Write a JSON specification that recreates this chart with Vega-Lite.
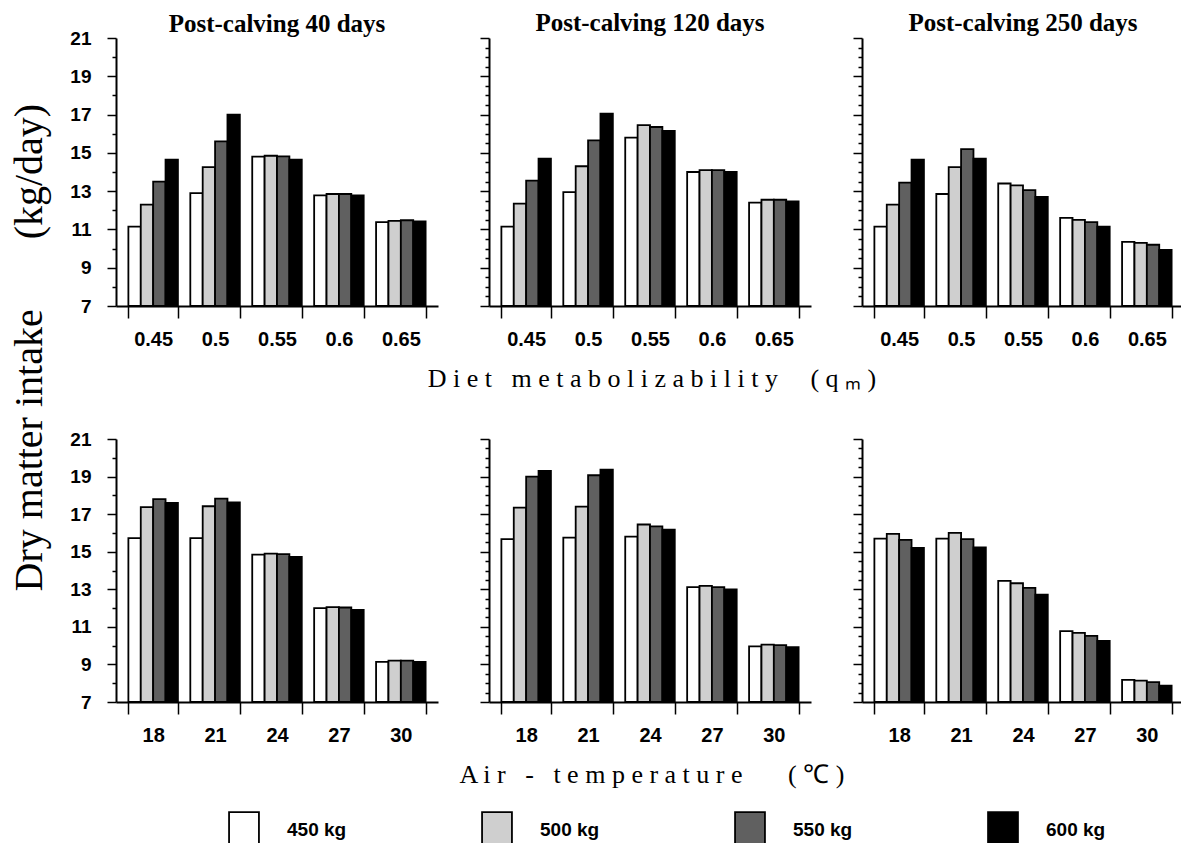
{
  "$schema": "https://vega.github.io/schema/vega-lite/v6.json",
  "background": "white",
  "padding": {"left": 9, "top": 11, "right": 0, "bottom": 0},
  "title": {"text": "Dry matter intake\u00a0\u00a0\u00a0\u00a0\u00a0\u00a0\u00a0(kg/day)", "orient": "left", "anchor": "middle", "font": "Liberation Serif", "fontSize": 40, "fontWeight": "normal", "color": "black", "offset": 20, "dx": 84},
  "data": {"values": [
    {"factor":"qm","days":40,"level":"0.45","weight":"450 kg","intake":11.15},
    {"factor":"qm","days":40,"level":"0.45","weight":"500 kg","intake":12.3},
    {"factor":"qm","days":40,"level":"0.45","weight":"550 kg","intake":13.5},
    {"factor":"qm","days":40,"level":"0.45","weight":"600 kg","intake":14.65},
    {"factor":"qm","days":40,"level":"0.5","weight":"450 kg","intake":12.9},
    {"factor":"qm","days":40,"level":"0.5","weight":"500 kg","intake":14.25},
    {"factor":"qm","days":40,"level":"0.5","weight":"550 kg","intake":15.6},
    {"factor":"qm","days":40,"level":"0.5","weight":"600 kg","intake":17.0},
    {"factor":"qm","days":40,"level":"0.55","weight":"450 kg","intake":14.8},
    {"factor":"qm","days":40,"level":"0.55","weight":"500 kg","intake":14.85},
    {"factor":"qm","days":40,"level":"0.55","weight":"550 kg","intake":14.82},
    {"factor":"qm","days":40,"level":"0.55","weight":"600 kg","intake":14.65},
    {"factor":"qm","days":40,"level":"0.6","weight":"450 kg","intake":12.78},
    {"factor":"qm","days":40,"level":"0.6","weight":"500 kg","intake":12.85},
    {"factor":"qm","days":40,"level":"0.6","weight":"550 kg","intake":12.85},
    {"factor":"qm","days":40,"level":"0.6","weight":"600 kg","intake":12.78},
    {"factor":"qm","days":40,"level":"0.65","weight":"450 kg","intake":11.38},
    {"factor":"qm","days":40,"level":"0.65","weight":"500 kg","intake":11.45},
    {"factor":"qm","days":40,"level":"0.65","weight":"550 kg","intake":11.48},
    {"factor":"qm","days":40,"level":"0.65","weight":"600 kg","intake":11.42},
    {"factor":"qm","days":120,"level":"0.45","weight":"450 kg","intake":11.15},
    {"factor":"qm","days":120,"level":"0.45","weight":"500 kg","intake":12.35},
    {"factor":"qm","days":120,"level":"0.45","weight":"550 kg","intake":13.55},
    {"factor":"qm","days":120,"level":"0.45","weight":"600 kg","intake":14.7},
    {"factor":"qm","days":120,"level":"0.5","weight":"450 kg","intake":12.95},
    {"factor":"qm","days":120,"level":"0.5","weight":"500 kg","intake":14.3},
    {"factor":"qm","days":120,"level":"0.5","weight":"550 kg","intake":15.65},
    {"factor":"qm","days":120,"level":"0.5","weight":"600 kg","intake":17.05},
    {"factor":"qm","days":120,"level":"0.55","weight":"450 kg","intake":15.8},
    {"factor":"qm","days":120,"level":"0.55","weight":"500 kg","intake":16.45},
    {"factor":"qm","days":120,"level":"0.55","weight":"550 kg","intake":16.35},
    {"factor":"qm","days":120,"level":"0.55","weight":"600 kg","intake":16.15},
    {"factor":"qm","days":120,"level":"0.6","weight":"450 kg","intake":14.0},
    {"factor":"qm","days":120,"level":"0.6","weight":"500 kg","intake":14.1},
    {"factor":"qm","days":120,"level":"0.6","weight":"550 kg","intake":14.1},
    {"factor":"qm","days":120,"level":"0.6","weight":"600 kg","intake":14.0},
    {"factor":"qm","days":120,"level":"0.65","weight":"450 kg","intake":12.4},
    {"factor":"qm","days":120,"level":"0.65","weight":"500 kg","intake":12.55},
    {"factor":"qm","days":120,"level":"0.65","weight":"550 kg","intake":12.55},
    {"factor":"qm","days":120,"level":"0.65","weight":"600 kg","intake":12.47},
    {"factor":"qm","days":250,"level":"0.45","weight":"450 kg","intake":11.15},
    {"factor":"qm","days":250,"level":"0.45","weight":"500 kg","intake":12.3},
    {"factor":"qm","days":250,"level":"0.45","weight":"550 kg","intake":13.45},
    {"factor":"qm","days":250,"level":"0.45","weight":"600 kg","intake":14.65},
    {"factor":"qm","days":250,"level":"0.5","weight":"450 kg","intake":12.85},
    {"factor":"qm","days":250,"level":"0.5","weight":"500 kg","intake":14.25},
    {"factor":"qm","days":250,"level":"0.5","weight":"550 kg","intake":15.2},
    {"factor":"qm","days":250,"level":"0.5","weight":"600 kg","intake":14.7},
    {"factor":"qm","days":250,"level":"0.55","weight":"450 kg","intake":13.4},
    {"factor":"qm","days":250,"level":"0.55","weight":"500 kg","intake":13.3},
    {"factor":"qm","days":250,"level":"0.55","weight":"550 kg","intake":13.05},
    {"factor":"qm","days":250,"level":"0.55","weight":"600 kg","intake":12.7},
    {"factor":"qm","days":250,"level":"0.6","weight":"450 kg","intake":11.6},
    {"factor":"qm","days":250,"level":"0.6","weight":"500 kg","intake":11.5},
    {"factor":"qm","days":250,"level":"0.6","weight":"550 kg","intake":11.38},
    {"factor":"qm","days":250,"level":"0.6","weight":"600 kg","intake":11.15},
    {"factor":"qm","days":250,"level":"0.65","weight":"450 kg","intake":10.35},
    {"factor":"qm","days":250,"level":"0.65","weight":"500 kg","intake":10.3},
    {"factor":"qm","days":250,"level":"0.65","weight":"550 kg","intake":10.2},
    {"factor":"qm","days":250,"level":"0.65","weight":"600 kg","intake":9.93},
    {"factor":"temp","days":40,"level":"18","weight":"450 kg","intake":15.72},
    {"factor":"temp","days":40,"level":"18","weight":"500 kg","intake":17.37},
    {"factor":"temp","days":40,"level":"18","weight":"550 kg","intake":17.8},
    {"factor":"temp","days":40,"level":"18","weight":"600 kg","intake":17.6},
    {"factor":"temp","days":40,"level":"21","weight":"450 kg","intake":15.72},
    {"factor":"temp","days":40,"level":"21","weight":"500 kg","intake":17.42},
    {"factor":"temp","days":40,"level":"21","weight":"550 kg","intake":17.83},
    {"factor":"temp","days":40,"level":"21","weight":"600 kg","intake":17.62},
    {"factor":"temp","days":40,"level":"24","weight":"450 kg","intake":14.84},
    {"factor":"temp","days":40,"level":"24","weight":"500 kg","intake":14.9},
    {"factor":"temp","days":40,"level":"24","weight":"550 kg","intake":14.87},
    {"factor":"temp","days":40,"level":"24","weight":"600 kg","intake":14.72},
    {"factor":"temp","days":40,"level":"27","weight":"450 kg","intake":12.0},
    {"factor":"temp","days":40,"level":"27","weight":"500 kg","intake":12.05},
    {"factor":"temp","days":40,"level":"27","weight":"550 kg","intake":12.03},
    {"factor":"temp","days":40,"level":"27","weight":"600 kg","intake":11.9},
    {"factor":"temp","days":40,"level":"30","weight":"450 kg","intake":9.14},
    {"factor":"temp","days":40,"level":"30","weight":"500 kg","intake":9.2},
    {"factor":"temp","days":40,"level":"30","weight":"550 kg","intake":9.2},
    {"factor":"temp","days":40,"level":"30","weight":"600 kg","intake":9.14},
    {"factor":"temp","days":120,"level":"18","weight":"450 kg","intake":15.67},
    {"factor":"temp","days":120,"level":"18","weight":"500 kg","intake":17.35},
    {"factor":"temp","days":120,"level":"18","weight":"550 kg","intake":19.0},
    {"factor":"temp","days":120,"level":"18","weight":"600 kg","intake":19.3},
    {"factor":"temp","days":120,"level":"21","weight":"450 kg","intake":15.75},
    {"factor":"temp","days":120,"level":"21","weight":"500 kg","intake":17.4},
    {"factor":"temp","days":120,"level":"21","weight":"550 kg","intake":19.07},
    {"factor":"temp","days":120,"level":"21","weight":"600 kg","intake":19.37},
    {"factor":"temp","days":120,"level":"24","weight":"450 kg","intake":15.8},
    {"factor":"temp","days":120,"level":"24","weight":"500 kg","intake":16.45},
    {"factor":"temp","days":120,"level":"24","weight":"550 kg","intake":16.35},
    {"factor":"temp","days":120,"level":"24","weight":"600 kg","intake":16.17},
    {"factor":"temp","days":120,"level":"27","weight":"450 kg","intake":13.12},
    {"factor":"temp","days":120,"level":"27","weight":"500 kg","intake":13.18},
    {"factor":"temp","days":120,"level":"27","weight":"550 kg","intake":13.12},
    {"factor":"temp","days":120,"level":"27","weight":"600 kg","intake":13.0},
    {"factor":"temp","days":120,"level":"30","weight":"450 kg","intake":9.96},
    {"factor":"temp","days":120,"level":"30","weight":"500 kg","intake":10.05},
    {"factor":"temp","days":120,"level":"30","weight":"550 kg","intake":10.03},
    {"factor":"temp","days":120,"level":"30","weight":"600 kg","intake":9.92},
    {"factor":"temp","days":250,"level":"18","weight":"450 kg","intake":15.7},
    {"factor":"temp","days":250,"level":"18","weight":"500 kg","intake":15.95},
    {"factor":"temp","days":250,"level":"18","weight":"550 kg","intake":15.63},
    {"factor":"temp","days":250,"level":"18","weight":"600 kg","intake":15.2},
    {"factor":"temp","days":250,"level":"21","weight":"450 kg","intake":15.7},
    {"factor":"temp","days":250,"level":"21","weight":"500 kg","intake":16.0},
    {"factor":"temp","days":250,"level":"21","weight":"550 kg","intake":15.67},
    {"factor":"temp","days":250,"level":"21","weight":"600 kg","intake":15.23},
    {"factor":"temp","days":250,"level":"24","weight":"450 kg","intake":13.45},
    {"factor":"temp","days":250,"level":"24","weight":"500 kg","intake":13.32},
    {"factor":"temp","days":250,"level":"24","weight":"550 kg","intake":13.07},
    {"factor":"temp","days":250,"level":"24","weight":"600 kg","intake":12.72},
    {"factor":"temp","days":250,"level":"27","weight":"450 kg","intake":10.77},
    {"factor":"temp","days":250,"level":"27","weight":"500 kg","intake":10.68},
    {"factor":"temp","days":250,"level":"27","weight":"550 kg","intake":10.52},
    {"factor":"temp","days":250,"level":"27","weight":"600 kg","intake":10.25},
    {"factor":"temp","days":250,"level":"30","weight":"450 kg","intake":8.18},
    {"factor":"temp","days":250,"level":"30","weight":"500 kg","intake":8.14},
    {"factor":"temp","days":250,"level":"30","weight":"550 kg","intake":8.06},
    {"factor":"temp","days":250,"level":"30","weight":"600 kg","intake":7.87}
  ]},
  "spacing": 38,
  "vconcat": [
    {
      "spacing": 51,
      "bounds": "flush",
      "title": {"text": "D i e t \u00a0 m e t a b o l i z a b i l i t y \u00a0 \u00a0 ( q ₘ )", "orient": "bottom", "anchor": "middle", "font": "Liberation Serif", "fontSize": 26, "fontWeight": "normal", "color": "black", "offset": 17, "dx": 25},
      "hconcat": [
        {
          "width": 322, "height": 268,
          "title": {"text": "Post-calving 40 days", "frame": "group", "offset": 1, "dy": 9},
          "transform": [{"filter": "datum.factor == 'qm' && datum.days == 40"}],
          "mark": {"type": "bar"},
          "encoding": {
            "x": {"field": "level", "type": "ordinal", "title": null},
            "xOffset": {"field": "weight", "type": "nominal"},
            "y": {"field": "intake", "type": "quantitative", "title": null, "scale": {"domain": [7, 21], "zero": false, "nice": false},
                  "axis": {"values": [7,7.5,8,8.5,9,9.5,10,10.5,11,11.5,12,12.5,13,13.5,14,14.5,15,15.5,16,16.5,17,17.5,18,18.5,19,19.5,20,20.5,21], "format": "d", "labelExpr": "datum.value % 2 == 1 ? datum.label : ''", "tickSize": {"condition": {"test": "datum.value % 2 == 1", "value": 9}, "value": 4}, "labelPadding": 16}},
            "y2": {"datum": 7},
            "fill": {"field": "weight", "type": "nominal", "title": null,
                     "legend": {"orient": "none", "legendX": 109, "legendY": 773, "direction": "horizontal", "columns": 4, "symbolType": "M-0.83,-1H0.83V1H-0.83Z", "symbolSize": 1296, "symbolStrokeColor": "black", "symbolStrokeWidth": 1.5, "symbolOpacity": 1, "labelFont": "Liberation Sans", "labelFontSize": 19, "labelFontWeight": "bold", "labelColor": "black", "columnPadding": 131, "labelOffset": 24}}
          }
        },
        {
          "width": 322, "height": 268,
          "title": {"text": "Post-calving 120 days", "frame": "group", "offset": 1},
          "transform": [{"filter": "datum.factor == 'qm' && datum.days == 120"}],
          "mark": {"type": "bar"},
          "encoding": {
            "x": {"field": "level", "type": "ordinal", "title": null},
            "xOffset": {"field": "weight", "type": "nominal"},
            "y": {"field": "intake", "type": "quantitative", "title": null, "scale": {"domain": [7, 21], "zero": false, "nice": false},
                  "axis": {"values": [7,7.5,8,8.5,9,9.5,10,10.5,11,11.5,12,12.5,13,13.5,14,14.5,15,15.5,16,16.5,17,17.5,18,18.5,19,19.5,20,20.5,21], "labels": false, "tickSize": {"condition": {"test": "datum.value % 2 == 1", "value": 9}, "value": 4}}},
            "y2": {"datum": 7},
            "fill": {"field": "weight", "type": "nominal", "title": null,
                     "legend": {"orient": "none", "legendX": 109, "legendY": 773, "direction": "horizontal", "columns": 4, "symbolType": "M-0.83,-1H0.83V1H-0.83Z", "symbolSize": 1296, "symbolStrokeColor": "black", "symbolStrokeWidth": 1.5, "symbolOpacity": 1, "labelFont": "Liberation Sans", "labelFontSize": 19, "labelFontWeight": "bold", "labelColor": "black", "columnPadding": 131, "labelOffset": 24}}
          }
        },
        {
          "width": 322, "height": 268,
          "title": {"text": "Post-calving 250 days", "frame": "group", "offset": 1},
          "transform": [{"filter": "datum.factor == 'qm' && datum.days == 250"}],
          "mark": {"type": "bar"},
          "encoding": {
            "x": {"field": "level", "type": "ordinal", "title": null},
            "xOffset": {"field": "weight", "type": "nominal"},
            "y": {"field": "intake", "type": "quantitative", "title": null, "scale": {"domain": [7, 21], "zero": false, "nice": false},
                  "axis": {"values": [7,7.5,8,8.5,9,9.5,10,10.5,11,11.5,12,12.5,13,13.5,14,14.5,15,15.5,16,16.5,17,17.5,18,18.5,19,19.5,20,20.5,21], "labels": false, "tickSize": {"condition": {"test": "datum.value % 2 == 1", "value": 9}, "value": 4}}},
            "y2": {"datum": 7},
            "fill": {"field": "weight", "type": "nominal", "title": null,
                     "legend": {"orient": "none", "legendX": 109, "legendY": 773, "direction": "horizontal", "columns": 4, "symbolType": "M-0.83,-1H0.83V1H-0.83Z", "symbolSize": 1296, "symbolStrokeColor": "black", "symbolStrokeWidth": 1.5, "symbolOpacity": 1, "labelFont": "Liberation Sans", "labelFontSize": 19, "labelFontWeight": "bold", "labelColor": "black", "columnPadding": 131, "labelOffset": 24}}
          }
        }
      ]
    },
    {
      "spacing": 51,
      "bounds": "flush",
      "title": {"text": "A i r \u00a0 - \u00a0 t e m p e r a t u r e \u00a0 \u00a0 \u00a0 ( ℃ )", "orient": "bottom", "anchor": "middle", "font": "Liberation Serif", "fontSize": 26, "fontWeight": "normal", "color": "black", "offset": 17, "dx": 25},
      "hconcat": [
        {
          "width": 322, "height": 263,
          "transform": [{"filter": "datum.factor == 'temp' && datum.days == 40"}],
          "mark": {"type": "bar"},
          "encoding": {
            "x": {"field": "level", "type": "ordinal", "title": null},
            "xOffset": {"field": "weight", "type": "nominal"},
            "y": {"field": "intake", "type": "quantitative", "title": null, "scale": {"domain": [7, 21], "zero": false, "nice": false},
                  "axis": {"values": [7,7.5,8,8.5,9,9.5,10,10.5,11,11.5,12,12.5,13,13.5,14,14.5,15,15.5,16,16.5,17,17.5,18,18.5,19,19.5,20,20.5,21], "format": "d", "labelExpr": "datum.value % 2 == 1 ? datum.label : ''", "tickSize": {"condition": {"test": "datum.value % 2 == 1", "value": 9}, "value": 4}, "labelPadding": 16}},
            "y2": {"datum": 7},
            "fill": {"field": "weight", "type": "nominal", "title": null,
                     "legend": {"orient": "none", "legendX": 109, "legendY": 773, "direction": "horizontal", "columns": 4, "symbolType": "M-0.83,-1H0.83V1H-0.83Z", "symbolSize": 1296, "symbolStrokeColor": "black", "symbolStrokeWidth": 1.5, "symbolOpacity": 1, "labelFont": "Liberation Sans", "labelFontSize": 19, "labelFontWeight": "bold", "labelColor": "black", "columnPadding": 131, "labelOffset": 24}}
          }
        },
        {
          "width": 322, "height": 263,
          "transform": [{"filter": "datum.factor == 'temp' && datum.days == 120"}],
          "mark": {"type": "bar"},
          "encoding": {
            "x": {"field": "level", "type": "ordinal", "title": null},
            "xOffset": {"field": "weight", "type": "nominal"},
            "y": {"field": "intake", "type": "quantitative", "title": null, "scale": {"domain": [7, 21], "zero": false, "nice": false},
                  "axis": {"values": [7,7.5,8,8.5,9,9.5,10,10.5,11,11.5,12,12.5,13,13.5,14,14.5,15,15.5,16,16.5,17,17.5,18,18.5,19,19.5,20,20.5,21], "labels": false, "tickSize": {"condition": {"test": "datum.value % 2 == 1", "value": 9}, "value": 4}}},
            "y2": {"datum": 7},
            "fill": {"field": "weight", "type": "nominal", "title": null,
                     "legend": {"orient": "none", "legendX": 109, "legendY": 773, "direction": "horizontal", "columns": 4, "symbolType": "M-0.83,-1H0.83V1H-0.83Z", "symbolSize": 1296, "symbolStrokeColor": "black", "symbolStrokeWidth": 1.5, "symbolOpacity": 1, "labelFont": "Liberation Sans", "labelFontSize": 19, "labelFontWeight": "bold", "labelColor": "black", "columnPadding": 131, "labelOffset": 24}}
          }
        },
        {
          "width": 322, "height": 263,
          "transform": [{"filter": "datum.factor == 'temp' && datum.days == 250"}],
          "mark": {"type": "bar"},
          "encoding": {
            "x": {"field": "level", "type": "ordinal", "title": null},
            "xOffset": {"field": "weight", "type": "nominal"},
            "y": {"field": "intake", "type": "quantitative", "title": null, "scale": {"domain": [7, 21], "zero": false, "nice": false},
                  "axis": {"values": [7,7.5,8,8.5,9,9.5,10,10.5,11,11.5,12,12.5,13,13.5,14,14.5,15,15.5,16,16.5,17,17.5,18,18.5,19,19.5,20,20.5,21], "labels": false, "tickSize": {"condition": {"test": "datum.value % 2 == 1", "value": 9}, "value": 4}}},
            "y2": {"datum": 7},
            "fill": {"field": "weight", "type": "nominal", "title": null,
                     "legend": {"orient": "none", "legendX": 109, "legendY": 773, "direction": "horizontal", "columns": 4, "symbolType": "M-0.83,-1H0.83V1H-0.83Z", "symbolSize": 1296, "symbolStrokeColor": "black", "symbolStrokeWidth": 1.5, "symbolOpacity": 1, "labelFont": "Liberation Sans", "labelFontSize": 19, "labelFontWeight": "bold", "labelColor": "black", "columnPadding": 131, "labelOffset": 24}}
          }
        }
      ]
    }
  ],
  "config": {
    "view": {"stroke": null},
    "axis": {"grid": false, "domainColor": "black", "domainWidth": 2, "tickColor": "black", "tickWidth": 1.5, "labelColor": "black", "labelFont": "Liberation Sans", "labelFontWeight": "bold", "labelFontSize": 19},
    "axisX": {"tickBand": "extent", "tickSize": 12, "labelAngle": 0, "labelPadding": 11, "labelFontSize": 20},
    "scale": {"bandPaddingInner": 0.2, "bandPaddingOuter": 0.1},
    "range": {"category": ["#ffffff", "#cfcfcf", "#606060", "#000000"]},
    "bar": {"stroke": "black", "strokeWidth": 1.8},
    "title": {"font": "Liberation Serif", "fontSize": 25, "fontWeight": "bold", "color": "black", "offset": 6}
  }
}
